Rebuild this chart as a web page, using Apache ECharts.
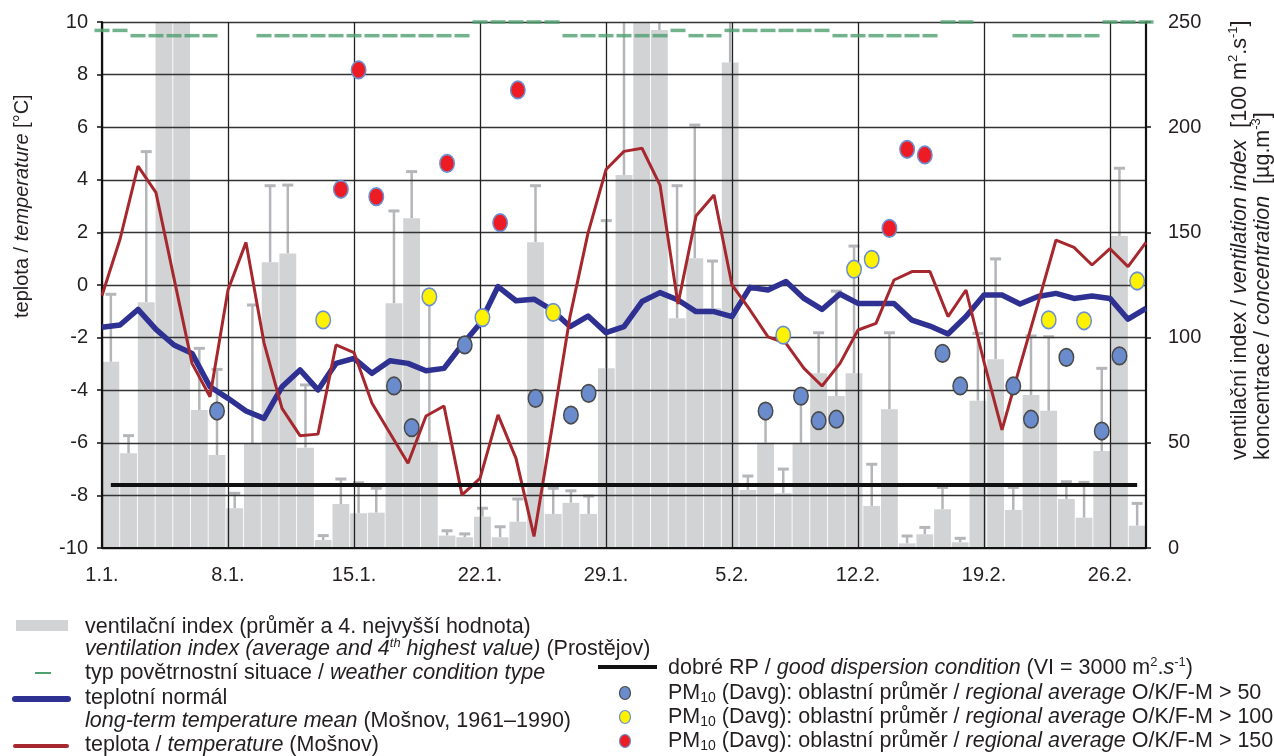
<!DOCTYPE html>
<html><head><meta charset="utf-8">
<script src="https://cdn.jsdelivr.net/npm/echarts@6/dist/echarts.min.js"></script>
<style>html,body{margin:0;padding:0;background:#fff}#c{width:1274px;height:756px}</style>
</head><body><div id="c"></div>
<script>
// ---------- DATA ----------
const days = ['1.1.','2.1.','3.1.','4.1.','5.1.','6.1.','7.1.','8.1.','9.1.','10.1.','11.1.','12.1.','13.1.','14.1.','15.1.','16.1.','17.1.','18.1.','19.1.','20.1.','21.1.','22.1.','23.1.','24.1.','25.1.','26.1.','27.1.','28.1.','29.1.','30.1.','31.1.',
'1.2.','2.2.','3.2.','4.2.','5.2.','6.2.','7.2.','8.2.','9.2.','10.2.','11.2.','12.2.','13.2.','14.2.','15.2.','16.2.','17.2.','18.2.','19.2.','20.2.','21.2.','22.2.','23.2.','24.2.','25.2.','26.2.','27.2.','28.2.'];
// ventilation index average [100 m2.s-1] (values above 250 are cut off at the top)
const ventAvg = [88.5,45,116.8,275,280,65.6,44.2,18.9,49.8,135.8,140,47.7,3.8,20.9,16.5,16.8,116.3,156.7,50.5,5.9,5.1,14.9,5.1,12.5,145.3,16.2,21.5,16.2,85.4,177.3,262,246.2,109.2,137.7,113.9,230.7,27.6,50,26,50,83,72.2,83,20,66,2.2,6.5,18.4,2.7,70,89.7,18.1,72.7,65.2,23.3,14.4,46.1,148.3,10.6];
// ventilation index 4th highest value
const vent4th = [120.6,53.4,188.4,300,300,94.9,84.9,26,115.5,172.2,172.5,77.5,5.9,32.8,31,28.4,160.2,178.9,120,8.2,6.7,18.9,10.1,23.3,172.2,28.4,27.2,24.7,155.6,270,290,265,172.2,201,136.4,260,34.2,68,37.5,75,102.3,122.1,143.5,39.8,102.3,5.7,9.8,28.8,4.6,102,137.4,28.8,100.8,100.4,31.5,31.2,85.4,180.5,21.2];
// temperature (Mošnov) [°C]
const temperature = [-0.4,1.74,4.52,3.51,0.25,-2.98,-4.25,-0.19,1.62,-2.2,-4.69,-5.73,-5.67,-2.28,-2.57,-4.5,-5.64,-6.78,-4.98,-4.6,-7.98,-7.35,-4.94,-6.59,-9.56,-5.44,-1.2,1.97,4.39,5.08,5.2,3.8,-0.72,2.62,3.42,0.0,-0.95,-1.97,-2.22,-3.17,-3.84,-2.98,-1.71,-1.46,0.19,0.51,0.51,-1.2,-0.19,-2.92,-5.51,-3.08,-0.7,1.71,1.43,0.76,1.38,0.7,1.62];
// long-term temperature mean (Mošnov, 1961–1990) [°C]
const tempNormal = [-1.61,-1.52,-0.93,-1.69,-2.28,-2.6,-3.87,-4.31,-4.79,-5.07,-3.87,-3.23,-3.99,-2.98,-2.79,-3.36,-2.88,-2.98,-3.26,-3.17,-2.28,-1.46,-0.06,-0.6,-0.54,-0.95,-1.58,-1.18,-1.81,-1.58,-0.63,-0.29,-0.57,-1.01,-1.01,-1.2,-0.09,-0.19,0.13,-0.51,-0.93,-0.34,-0.7,-0.7,-0.7,-1.34,-1.56,-1.86,-1.2,-0.38,-0.38,-0.72,-0.44,-0.32,-0.51,-0.42,-0.51,-1.3,-0.89];
// weather condition type marker level (right axis), null = no marker
const weatherLevel = [246,246,243.5,243.5,243.5,243.5,243.5,null,null,243.5,243.5,243.5,243.5,243.5,243.5,243.5,243.5,243.5,243.5,243.5,243.5,250,250,250,250,250,243.5,243.5,243.5,243.5,243.5,243.5,246,243.5,243.5,246,246,246,246,246,246,243.5,243.5,243.5,243.5,243.5,243.5,250,250,null,null,243.5,243.5,243.5,243.5,243.5,250,250,250];
// PM10 regional average [µg.m-3]: [day index, value]
const pm50 = [[6,65.1],[16,77],[17,57.2],[20,96.5],[24,71.1],[26,63.2],[27,73.5],[37,65.1],[39,72.2],[40,60.5],[41,61.2],[47,92.5],[48,77],[51,77],[52,61.2],[54,90.6],[56,55.6],[57,91.3]];
const pm100 = [[12,108.4],[18,119.4],[21,109.5],[25,112],[38,101.2],[42,132.5],[43,137.2],[53,108.4],[55,108],[58,126.9]];
const pm150 = [[13,170.5],[14,227.2],[15,167],[19,182.8],[22,154.6],[23,217.7],[44,151.9],[45,189.5],[46,186.8]];
const goodDispersion = 30; // VI = 3000 m2.s-1
const tempTicks = {min:-10, max:10, step:2};
const rightTicks = {min:0, max:250, step:50};

// ---------- CHART ----------
const FF = '"Liberation Sans", Arial, sans-serif';
const TXT = '#231f20';
const chart = echarts.init(document.getElementById('c'), null, {renderer:'canvas'});

const whiskerData = days.map((d,i)=>[i, ventAvg[i], vent4th[i]]);

const LF = 21.5;
const rich = {
  i:{fontFamily:FF, fontSize:LF, fontStyle:'italic', fill:TXT, lineHeight:24},
  n:{fontFamily:FF, fontSize:LF, fill:TXT, lineHeight:24},
  sup:{fontFamily:FF, fontSize:13, fill:TXT, lineHeight:13, verticalAlign:'top'},
  supi:{fontFamily:FF, fontSize:13, fontStyle:'italic', fill:TXT, lineHeight:13, verticalAlign:'top'},
  sub:{fontFamily:FF, fontSize:14, fill:TXT, lineHeight:13, verticalAlign:'bottom'}
};
function txt(x, y, text){
  return {type:'text', x:x, y:y, silent:true,
    style:{text:text, rich:rich, fontFamily:FF, fontSize:LF, fill:TXT, align:'left', verticalAlign:'middle', lineHeight:24}};
}
function rtxt(x, y, text, fs){
  const r = {
    i:{fontFamily:FF, fontSize:fs, fontStyle:'italic', fill:TXT, lineHeight:26},
    sup:{fontFamily:FF, fontSize:13, fill:TXT, lineHeight:14, verticalAlign:'top'}
  };
  return {type:'text', x:x, y:y, rotation:Math.PI/2, silent:true,
    style:{text:text, rich:r, fontFamily:FF, fontSize:fs, fill:TXT, align:'left', verticalAlign:'middle', lineHeight:26}};
}

const graphics = [
  // axis titles
  rtxt(22, 318, 'teplota / {i|temperature} [°C]', 20),
  rtxt(1240, 460, 'ventilační index / {i|ventilation index}  [100 m{sup|2}.s{sup|-1}]', 21.5),
  rtxt(1263, 460, 'koncentrace / {i|concentration}  [µg.m{sup|-3}]', 21.5),
  // legend left column
  {type:'rect', shape:{x:16, y:620, width:52, height:11}, style:{fill:'#d1d3d4'}, silent:true},
  txt(85, 627, 'ventilační index (průměr a 4. nejvyšší hodnota)'),
  txt(85, 649, '{i|ventilation index (average and 4}{supi|th}{i| highest value)} (Prostějov)'),
  {type:'line', shape:{x1:35, y1:673, x2:51, y2:673}, style:{stroke:'#4f9f70', lineWidth:2}, silent:true},
  txt(85, 673, 'typ povětrnostní situace / {i|weather condition type}'),
  {type:'line', shape:{x1:15, y1:699, x2:68, y2:699}, style:{stroke:'#2e3192', lineWidth:6, lineCap:'round'}, silent:true},
  txt(85, 698, 'teplotní normál'),
  txt(85, 721, '{i|long-term temperature mean} (Mošnov, 1961–1990)'),
  {type:'line', shape:{x1:15, y1:746, x2:67, y2:746}, style:{stroke:'#a6282e', lineWidth:4, lineCap:'round'}, silent:true},
  txt(85, 745, 'teplota / {i|temperature} (Mošnov)'),
  // legend right column
  {type:'line', shape:{x1:598, y1:667, x2:657, y2:667}, style:{stroke:'#111', lineWidth:4}, silent:true},
  txt(668, 668, 'dobré RP / {i|good dispersion condition} (VI = 3000 m{sup|2}.{i|s}{sup|-1})'),
  {type:'ellipse', shape:{cx:625, cy:693, rx:5.5, ry:6.5}, style:{fill:'#6a8ccc', stroke:'#4a4a4a', lineWidth:1.2}, silent:true},
  txt(668, 693, 'PM{sub|10} (Davg): oblastní průměr / {i|regional average} O/K/F-M > 50'),
  {type:'ellipse', shape:{cx:625, cy:717, rx:5.5, ry:6.5}, style:{fill:'#fff200', stroke:'#6b8fd0', lineWidth:1.2}, silent:true},
  txt(668, 717, 'PM{sub|10} (Davg): oblastní průměr / {i|regional average} O/K/F-M > 100'),
  {type:'ellipse', shape:{cx:625, cy:741, rx:5.5, ry:6.5}, style:{fill:'#ed1c24', stroke:'#6b8fd0', lineWidth:1.2}, silent:true},
  txt(668, 741, 'PM{sub|10} (Davg): oblastní průměr / {i|regional average} O/K/F-M > 150')
];

const option = {
  animation:false,
  backgroundColor:'#fff',
  grid:{left:102, right:128, top:22, bottom:208, containLabel:false},
  xAxis:[
    {type:'category', data:days, boundaryGap:true, show:false, z:1},
    {type:'category', data:days, boundaryGap:false, position:'bottom', z:1,
      axisLine:{show:true, lineStyle:{color:'#111', width:2}},
      axisTick:{show:false},
      axisLabel:{interval:(i)=>i%7===0, fontFamily:FF, fontSize:20, color:TXT, margin:17},
      splitLine:{show:true, interval:(i)=>i%7===0, lineStyle:{color:'#222', width:1.3}}}
  ],
  yAxis:[
    {type:'value', min:tempTicks.min, max:tempTicks.max, interval:tempTicks.step, position:'left', z:1,
      axisLine:{show:true, lineStyle:{color:'#111', width:2.2}},
      axisTick:{show:true, length:5, lineStyle:{color:'#111', width:1.5}},
      axisLabel:{fontFamily:FF, fontSize:20, color:TXT, margin:14},
      splitLine:{show:true, lineStyle:{color:'#333', width:1.4}}},
    {type:'value', min:rightTicks.min, max:rightTicks.max, interval:rightTicks.step, position:'right', z:1,
      axisLine:{show:true, lineStyle:{color:'#111', width:2.2}},
      axisTick:{show:true, length:5, lineStyle:{color:'#111', width:1.5}},
      axisLabel:{fontFamily:FF, fontSize:20, color:TXT, margin:22},
      splitLine:{show:false}}
  ],
  graphic:graphics,
  series:[
    {type:'bar', name:'vent', xAxisIndex:0, yAxisIndex:1, data:ventAvg, z:0,
      barCategoryGap:'5%', itemStyle:{color:'#d1d3d4'}, silent:true,
      markLine:{silent:true, symbol:'none', label:{show:false},
        lineStyle:{color:'#111', width:4, type:'solid'},
        data:[[{coord:[days[0], goodDispersion]}, {coord:[days[days.length-1], goodDispersion]}]]}},
    {type:'custom', name:'vent4th', xAxisIndex:0, yAxisIndex:1, data:whiskerData, z:0, silent:true,
      renderItem:function(params, api){
        const cs = params.coordSys;
        const t = api.coord([api.value(0), api.value(2)]);
        const b = api.coord([api.value(0), api.value(1)]);
        const yTop = Math.max(t[1], cs.y), yBot = Math.max(b[1], cs.y);
        const st = {stroke:'#b4b6b9', lineWidth:2.5};
        const ch = [{type:'line', shape:{x1:t[0], y1:yTop, x2:t[0], y2:yBot}, style:st}];
        if (t[1] >= cs.y) ch.push({type:'line', shape:{x1:t[0]-5.5, y1:t[1], x2:t[0]+5.5, y2:t[1]}, style:{stroke:'#b4b6b9', lineWidth:3}});
        return {type:'group', children:ch};
      }},
    {type:'line', name:'normal', xAxisIndex:1, yAxisIndex:0, data:tempNormal, symbol:'none', z:3, silent:true,
      lineStyle:{color:'#2e3192', width:5.5, join:'round'}},
    {type:'line', name:'temp', xAxisIndex:1, yAxisIndex:0, data:temperature, symbol:'none', z:3, silent:true,
      lineStyle:{color:'#a6282e', width:3}},
    {type:'scatter', name:'weather', xAxisIndex:1, yAxisIndex:1, data:weatherLevel, symbol:'rect', symbolSize:[15,3.5], clip:false, z:4, silent:true,
      itemStyle:{color:'#4f9f70'}},
    {type:'scatter', name:'pm50', xAxisIndex:0, yAxisIndex:1, data:pm50, symbol:'circle', symbolSize:[14.5,17.5], z:5, silent:true,
      itemStyle:{color:'#6a8ccc', borderColor:'#4a4a4a', borderWidth:1.6, opacity:1}},
    {type:'scatter', name:'pm100', xAxisIndex:0, yAxisIndex:1, data:pm100, symbol:'circle', symbolSize:[14.5,17.5], z:5, silent:true,
      itemStyle:{color:'#fff200', borderColor:'#6b8fd0', borderWidth:1.6, opacity:1}},
    {type:'scatter', name:'pm150', xAxisIndex:0, yAxisIndex:1, data:pm150, symbol:'circle', symbolSize:[14.5,17.5], z:5, silent:true,
      itemStyle:{color:'#ed1c24', borderColor:'#6b8fd0', borderWidth:1.6, opacity:1}}
  ]
};
chart.setOption(option);
</script></body></html>
